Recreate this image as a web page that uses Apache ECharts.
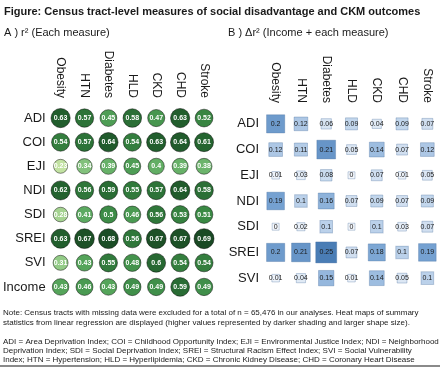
<!DOCTYPE html>
<html>
<head>
<meta charset="utf-8">
<script src="https://cdn.jsdelivr.net/npm/echarts@6/dist/echarts.min.js"></script>
<style>
html,body{margin:0;padding:0;background:#fff;}
#c{width:440px;height:368px;}
</style>
</head>
<body>
<div id="c"></div>
<script>
var outcomes = ['Obesity','HTN','Diabetes','HLD','CKD','CHD','Stroke'];
var measuresA = ['ADI','COI','EJI','NDI','SDI','SREI','SVI','Income'];
var measuresB = ['ADI','COI','EJI','NDI','SDI','SREI','SVI'];

var r2ADI    = [0.63,0.57,0.45,0.58,0.47,0.63,0.52];
var r2COI    = [0.54,0.57,0.64,0.54,0.63,0.64,0.61];
var r2EJI    = [0.23,0.34,0.39,0.45,0.4,0.39,0.38];
var r2NDI    = [0.62,0.56,0.59,0.55,0.57,0.64,0.58];
var r2SDI    = [0.28,0.41,0.5,0.46,0.56,0.53,0.51];
var r2SREI   = [0.63,0.67,0.68,0.56,0.67,0.67,0.69];
var r2SVI    = [0.31,0.43,0.55,0.48,0.6,0.54,0.54];
var r2Income = [0.43,0.46,0.43,0.49,0.49,0.59,0.49];

var dADI  = [0.2,0.12,0.06,0.09,0.04,0.09,0.07];
var dCOI  = [0.12,0.11,0.21,0.05,0.14,0.07,0.12];
var dEJI  = [0.01,0.03,0.08,0,0.07,0.01,0.05];
var dNDI  = [0.19,0.1,0.16,0.07,0.09,0.07,0.09];
var dSDI  = [0,0.02,0.1,0,0.1,0.03,0.07];
var dSREI = [0.2,0.21,0.25,0.07,0.18,0.1,0.19];
var dSVI  = [0.01,0.04,0.15,0.01,0.14,0.05,0.1];

var rowsA = [r2ADI,r2COI,r2EJI,r2NDI,r2SDI,r2SREI,r2SVI,r2Income];
var rowsB = [dADI,dCOI,dEJI,dNDI,dSDI,dSREI,dSVI];

function toData(rows){
  var out=[];
  rows.forEach(function(r,i){ r.forEach(function(v,j){ out.push([j,i,v]); }); });
  return out;
}

var FONT = 'Liberation Sans, Arial, Helvetica, sans-serif';
var chart = echarts.init(document.getElementById('c'), null, {renderer:'canvas'});

var noteLines = [
 'Note: Census tracts with missing data were excluded for a total of n = 65,476 in our analyses. Heat maps of summary',
 'statistics from linear regression are displayed (higher values represented by darker shading and larger shape size).'
];
var defLines = [
 'ADI = Area Deprivation Index; COI = Childhood Opportunity Index; EJI = Environmental Justice Index; NDI = Neighborhood',
 'Deprivation Index; SDI = Social Deprivation Index; SREI = Structural Racism Effect Index; SVI = Social Vulnerability',
 'Index; HTN = Hypertension; HLD = Hyperlipidemia; CKD = Chronic Kidney Disease; CHD = Coronary Heart Disease'
];

function txt(x,y,s,size,weight){
  return {type:'text', left:x, top:y, style:{text:s, fill:'#1a1a1a', font:(weight||'normal')+' '+size+'px '+FONT}};
}

var graphics = [
  txt(4,6,'Figure: Census tract-level measures of social disadvantage and CKM outcomes',11,'bold'),
  txt(4,27,'A ) r\u00B2 (Each measure)',11),
  txt(228,27,'B ) \u0394r\u00B2 (Income + each measure)',11),
  {type:'rect', left:0, top:365, shape:{width:440,height:2}, style:{fill:'#8a8a8a'}}
];
noteLines.forEach(function(s,i){ graphics.push(txt(3,309+i*9.5,s,8)); });
defLines.forEach(function(s,i){ graphics.push(txt(3,338+i*9,s,8)); });

function xAx(idx){
  return {type:'category', gridIndex:idx, data:outcomes, position:'top',
    axisLine:{show:false}, axisTick:{show:false}, splitLine:{show:false},
    axisLabel:{rotate:90, margin:8, fontSize:12, color:'#1a1a1a', fontFamily:FONT, interval:0}};
}
function yAx(idx,data,margin){
  return {type:'category', gridIndex:idx, data:data, inverse:true,
    axisLine:{show:false}, axisTick:{show:false}, splitLine:{show:false},
    axisLabel:{margin:margin, fontSize:13, color:'#1a1a1a', fontFamily:FONT, interval:0}};
}

chart.setOption({
  animation:false,
  backgroundColor:'#ffffff',
  graphic:graphics,
  grid:[
    {left:46, top:106, width:170, height:193},
    {left:263, top:111, width:178, height:180}
  ],
  xAxis:[xAx(0), xAx(1)],
  yAxis:[yAx(0,measuresA,3), yAx(1,measuresB,4)],
  visualMap:[
    {show:false, seriesIndex:0, dimension:2, min:0.23, max:0.69,
     inRange:{color:['#c2e2a2','#8cc783','#5aa95f','#3b8a45','#276932','#1a4a24'], symbolSize:[14,20]}},
    {show:false, seriesIndex:1, dimension:2, min:0, max:0.25,
     inRange:{color:['#f3f6fb','#d6e3f2','#a9c5e4','#77a3d2','#4a7db5'], symbolSize:[7,21]}}
  ],
  series:[
    {type:'scatter', xAxisIndex:0, yAxisIndex:0, symbol:'circle', data:toData(rowsA),
     itemStyle:{borderColor:'rgba(0,0,0,0.45)', borderWidth:1, opacity:1},
     label:{show:true, position:'inside', fontSize:7, fontWeight:'bold', color:'#ffffff', fontFamily:FONT,
       formatter:function(p){return String(p.value[2]);}}},
    {type:'scatter', xAxisIndex:1, yAxisIndex:1, symbol:'rect', data:toData(rowsB),
     itemStyle:{borderColor:'rgba(60,100,150,0.3)', borderWidth:1, opacity:1},
     label:{show:true, position:'inside', fontSize:7, color:'#1a1a1a', fontFamily:FONT,
       formatter:function(p){return String(p.value[2]);}}}
  ]
});
</script>
</body>
</html>
